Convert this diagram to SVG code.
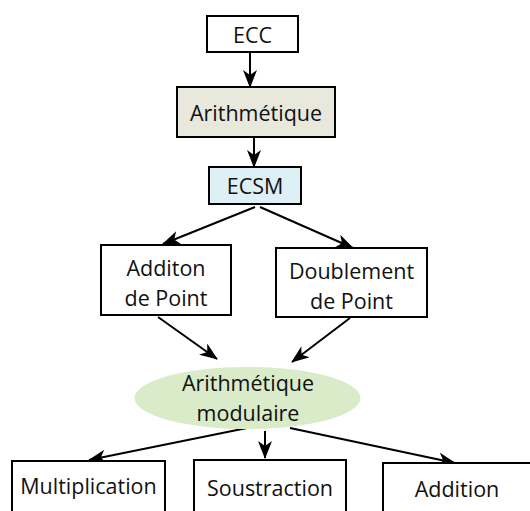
<svg xmlns="http://www.w3.org/2000/svg" width="530" height="511" viewBox="0 0 530 511">
<style>
.box{fill:#fff;stroke:#000;stroke-width:2}
.t{font-family:"Open Sans","Noto Sans",sans-serif;font-size:21.5px;fill:#111;text-anchor:middle;dominant-baseline:central}
.c{stroke:#000;stroke-width:2;fill:none;marker-end:url(#ah)}
</style>
<defs>
<marker id="ah" viewBox="0 0 18 14" refX="17" refY="7" markerWidth="18" markerHeight="14" markerUnits="userSpaceOnUse" orient="auto">
<path d="M0,0 L18,7 L0,14 L5,7 Z" fill="#000"/>
</marker>
</defs>
<rect width="530" height="511" fill="#fff"/>
<g id="connectors">
<line class="c" x1="250" y1="52" x2="250" y2="87"/>
<line class="c" x1="254" y1="137" x2="254" y2="167"/>
<line class="c" x1="255" y1="207" x2="163" y2="244"/>
<line class="c" x1="260" y1="207" x2="353" y2="248"/>
<line class="c" x1="158" y1="317" x2="217" y2="359"/>
<line class="c" x1="350" y1="318" x2="292" y2="362"/>
<line class="c" x1="247" y1="428" x2="89" y2="460"/>
<line class="c" x1="265" y1="431" x2="265" y2="458"/>
<line class="c" x1="290" y1="428" x2="455" y2="463"/>
</g>
<g id="ecc"><rect class="box" x="207" y="16" width="91" height="36"/><text class="t" x="252.5" y="34">ECC</text></g>
<g id="arith"><rect class="box" x="177" y="87" width="158" height="50" style="fill:#e8e8dc"/><text class="t" x="256" y="112">Arithmétique</text></g>
<g id="ecsm"><rect class="box" x="209" y="167" width="92" height="37" style="fill:#dcf0f6"/><text class="t" x="255" y="185.5">ECSM</text></g>
<g id="addpt"><rect class="box" x="101" y="245" width="130" height="70"/><text class="t" x="166" y="267">Additon</text><text class="t" x="166" y="297">de Point</text></g>
<g id="dblpt"><rect class="box" x="276" y="248" width="151" height="69"/><text class="t" x="351.5" y="270">Doublement</text><text class="t" x="351.5" y="300">de Point</text></g>
<g id="modular"><ellipse cx="247.5" cy="398" rx="113" ry="31" fill="#d9ebc9"/><text class="t" x="248" y="382">Arithmétique</text><text class="t" x="248" y="412">modulaire</text></g>
<g id="mult"><rect class="box" x="12" y="461" width="153" height="60"/><text class="t" x="88.5" y="485">Multiplication</text></g>
<g id="sous"><rect class="box" x="194" y="460" width="152" height="60"/><text class="t" x="270" y="487">Soustraction</text></g>
<g id="add"><rect class="box" x="383" y="463" width="150" height="60"/><text class="t" x="457" y="488">Addition</text></g>
</svg>
